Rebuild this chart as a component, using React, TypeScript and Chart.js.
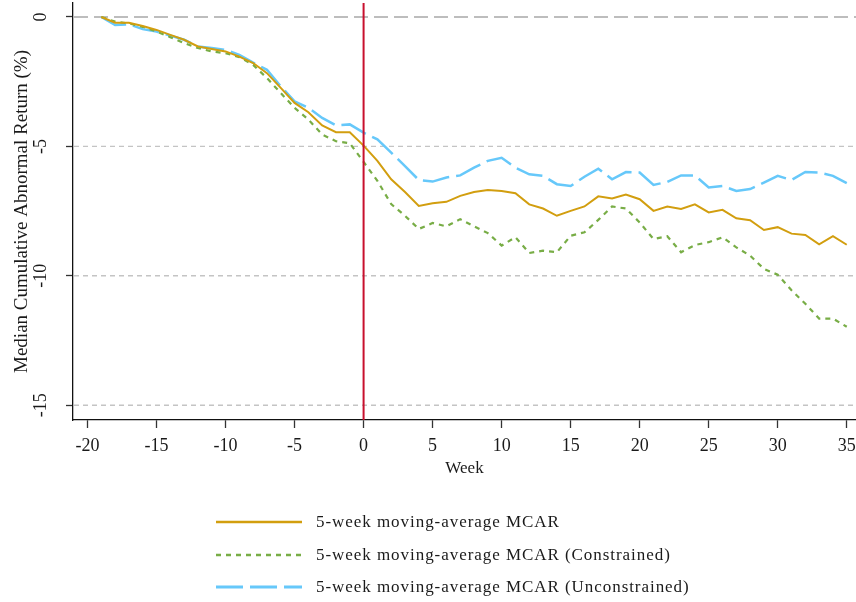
import React, { useEffect, useRef } from "react";
import { Chart, registerables } from "chart.js";

Chart.register(...registerables);

// ---------- data ----------
const weeks = [
  -19, -18, -17, -16, -15, -14, -13, -12, -11, -10, -9, -8, -7, -6, -5, -4, -3, -2, -1,
  0, 1, 2, 3, 4, 5, 6, 7, 8, 9, 10, 11, 12, 13, 14, 15, 16, 17, 18, 19, 20,
  21, 22, 23, 24, 25, 26, 27, 28, 29, 30, 31, 32, 33, 34, 35,
];

const mcar = [
  0, -0.22, -0.22, -0.35, -0.5, -0.69, -0.88, -1.14, -1.24, -1.33, -1.53, -1.78, -2.17, -2.74, -3.32, -3.68, -4.19, -4.45, -4.45,
  -4.97, -5.56, -6.27, -6.76, -7.3, -7.2, -7.14, -6.91, -6.76, -6.68, -6.72, -6.81, -7.24, -7.4, -7.68, -7.49, -7.32, -6.93, -7.01, -6.86, -7.04,
  -7.49, -7.32, -7.42, -7.24, -7.55, -7.45, -7.78, -7.85, -8.23, -8.12, -8.37, -8.42, -8.78, -8.47, -8.8,
];

const mcarConstrained = [
  0, -0.18, -0.25, -0.38, -0.56, -0.78, -1.01, -1.2, -1.33, -1.4, -1.55, -1.85, -2.36, -2.94, -3.51, -3.96, -4.54, -4.8, -4.88,
  -5.6, -6.33, -7.23, -7.68, -8.19, -7.96, -8.09, -7.81, -8.09, -8.35, -8.83, -8.51, -9.12, -9.03, -9.09, -8.45, -8.32, -7.84, -7.32, -7.4, -7.94,
  -8.58, -8.47, -9.09, -8.81, -8.7, -8.51, -8.9, -9.22, -9.73, -9.96, -10.56, -11.08, -11.65, -11.65, -11.97,
];

const mcarUnconstrained = [
  0, -0.31, -0.28, -0.47, -0.56, -0.72, -0.88, -1.14, -1.2, -1.27, -1.46, -1.76, -2.04, -2.68, -3.26, -3.51, -3.9, -4.19, -4.15,
  -4.47, -4.73, -5.24, -5.76, -6.3, -6.36, -6.2, -6.12, -5.82, -5.56, -5.44, -5.82, -6.08, -6.14, -6.46, -6.53, -6.17, -5.86, -6.27, -5.99, -6.01,
  -6.49, -6.37, -6.12, -6.12, -6.59, -6.53, -6.72, -6.65, -6.4, -6.14, -6.3, -5.99, -6.01, -6.14, -6.42,
];

const xTickValues = [-20, -15, -10, -5, 0, 5, 10, 15, 20, 25, 30, 35];
const yTickValues = [0, -5, -10, -15];
const eventWeek = 0;

const seriesLabels = [
  "5-week moving-average MCAR",
  "5-week moving-average MCAR (Constrained)",
  "5-week moving-average MCAR (Unconstrained)",
];

// ---------- styles ----------
const FONT = "'Liberation Serif', 'Times New Roman', serif";
const TEXT = "#1a1a1a";
const GOLD = "#d29e0f";
const GREEN = "#78ad46";
const BLUE = "#66c8fa";
const RED = "#c8102e";

const seriesStyles = [
  { color: GOLD, width: 2, dash: [] as number[] },
  { color: GREEN, width: 2.2, dash: [5, 5] },
  { color: BLUE, width: 2.5, dash: [27, 7] },
];

const stataPlugin = {
  id: "stataDecor",
  beforeDatasetsDraw(chart: any) {
    const { ctx, chartArea, scales } = chart;
    ctx.save();
    yTickValues.forEach((v) => {
      const y = scales.y.getPixelForValue(v);
      const zero = v === 0;
      ctx.beginPath();
      ctx.setLineDash(zero ? [14, 6] : [5, 4]);
      ctx.lineWidth = zero ? 2 : 1.4;
      ctx.strokeStyle = zero ? "#bdbdbd" : "#c4c4c4";
      ctx.moveTo(chartArea.left + 1, y);
      ctx.lineTo(chartArea.right, y);
      ctx.stroke();
    });
    ctx.restore();
  },
  afterDatasetsDraw(chart: any) {
    const { ctx, chartArea, scales } = chart;
    const x = scales.x.getPixelForValue(eventWeek);
    ctx.save();
    ctx.beginPath();
    ctx.setLineDash([]);
    ctx.lineWidth = 2;
    ctx.strokeStyle = RED;
    ctx.moveTo(x, chartArea.top);
    ctx.lineTo(x, chartArea.bottom);
    ctx.stroke();
    ctx.restore();
  },
};

function LegendRow({ label, style, top }: { label: string; style: any; top: number }) {
  return (
    <div style={{ position: "absolute", left: 216, top: top - 16, height: 32, display: "flex", alignItems: "center" }}>
      <svg width={86} height={32} style={{ display: "block" }}>
        <line
          x1={0}
          x2={86}
          y1={16}
          y2={16}
          stroke={style.color}
          strokeWidth={style.width + 0.5}
          strokeDasharray={style.dash.length ? style.dash.join(",") : undefined}
        />
      </svg>
      <span
        style={{
          marginLeft: 14,
          fontFamily: FONT,
          fontSize: 17,
          letterSpacing: "0.95px",
          color: TEXT,
          whiteSpace: "nowrap",
          lineHeight: "32px",
        }}
      >
        {label}
      </span>
    </div>
  );
}

export default function App() {
  const canvasRef = useRef<HTMLCanvasElement | null>(null);

  useEffect(() => {
    const canvas = canvasRef.current;
    if (!canvas) return;
    const seriesData = [mcar, mcarConstrained, mcarUnconstrained];
    const chart = new Chart(canvas, {
      type: "line",
      data: {
        datasets: seriesData.map((arr, k) => ({
          label: seriesLabels[k],
          data: weeks.map((w, i) => ({ x: w, y: arr[i] })),
          borderColor: seriesStyles[k].color,
          backgroundColor: seriesStyles[k].color,
          borderWidth: seriesStyles[k].width,
          borderDash: seriesStyles[k].dash,
          pointRadius: 0,
          tension: 0,
          fill: false,
        })),
      },
      options: {
        responsive: false,
        animation: false,
        layout: { padding: { top: 3, left: 0, right: 0, bottom: 122 } },
        plugins: {
          legend: { display: false },
          tooltip: { enabled: false },
        },
        scales: {
          x: {
            type: "linear",
            min: -21.05,
            max: 35.67,
            afterBuildTicks: (s: any) => {
              s.ticks = xTickValues.map((v) => ({ value: v }));
            },
            afterFit: (s: any) => {
              s.height = 60;
              s.paddingLeft = 0;
              s.paddingRight = 0;
            },
            grid: {
              drawOnChartArea: false,
              drawTicks: true,
              tickLength: 8,
              tickColor: "#333",
              tickWidth: 1.3,
            },
            border: { display: true, color: "#111", width: 1.3 },
            ticks: {
              font: { family: FONT, size: 18 },
              color: TEXT,
              padding: 7,
              maxRotation: 0,
              autoSkip: false,
              callback: (v: any) => String(v),
            },
            title: {
              display: true,
              text: "Week",
              font: { family: FONT, size: 17 },
              color: TEXT,
              padding: { top: 0, bottom: 1 },
            },
          },
          y: {
            type: "linear",
            min: -15.57,
            max: 0.54,
            afterBuildTicks: (s: any) => {
              s.ticks = yTickValues.map((v) => ({ value: v }));
            },
            afterFit: (s: any) => {
              s.width = 73;
              s.paddingTop = 0;
              s.paddingBottom = 0;
            },
            grid: {
              drawOnChartArea: false,
              drawTicks: true,
              tickLength: 7,
              tickColor: "#333",
              tickWidth: 1.3,
            },
            border: { display: true, color: "#111", width: 1.3 },
            ticks: {
              font: { family: FONT, size: 18 },
              color: TEXT,
              padding: 13,
              minRotation: 90,
              maxRotation: 90,
              crossAlign: "center",
              autoSkip: false,
              callback: (v: any) => String(v),
            },
            title: {
              display: true,
              text: "Median Cumulative Abnormal Return (%)",
              font: { family: FONT, size: 19 },
              color: TEXT,
              padding: { top: 10.6, bottom: 0 },
            },
          },
        },
      } as any,
      plugins: [stataPlugin],
    });
    return () => chart.destroy();
  }, []);

  const rowTops = [522, 555, 587];

  return (
    <div style={{ position: "absolute", left: 0, top: 0, width: 856, height: 602, background: "#fff" }}>
      <canvas ref={canvasRef} width={856} height={602} style={{ position: "absolute", left: 0, top: 0 }} />
      {seriesLabels.map((lab, k) => (
        <LegendRow key={lab} label={lab} style={seriesStyles[k]} top={rowTops[k]} />
      ))}
    </div>
  );
}
